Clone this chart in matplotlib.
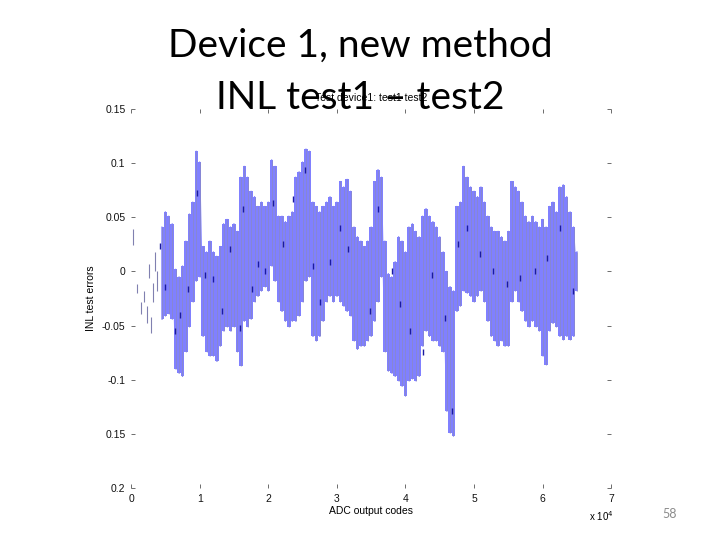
import numpy as np
import matplotlib
matplotlib.use("Agg")
import matplotlib.pyplot as plt

# ADC output codes sampled every 500 codes (dense part of the trace)
codes = list(range(4500, 65001, 500))

# upper / lower envelope of the INL difference trace
inl_upper = [
    0.041, 0.055, 0.051, 0.044, 0.002, -0.005, 0.005, 0.028, 0.053, 0.064,
    0.111, 0.101, 0.023, 0.018, 0.028, 0.018, 0.014, 0.023, 0.044, 0.048,
    0.041, 0.044, 0.037, 0.087, 0.097, 0.087, 0.074, 0.069, 0.060, 0.064,
    0.060, 0.064, 0.103, 0.097, 0.051, 0.051, 0.046, 0.051, 0.055, 0.087,
    0.092, 0.101, 0.113, 0.111, 0.064, 0.060, 0.055, 0.060, 0.064, 0.069,
    0.060, 0.064, 0.083, 0.078, 0.085, 0.074, 0.041, 0.032, 0.028, 0.023,
    0.028, 0.041, 0.083, 0.094, 0.087, 0.028, -0.002, -0.005, 0.009, 0.032,
    0.028, 0.018, 0.041, 0.044, 0.037, 0.032, 0.051, 0.058, 0.051, 0.046,
    0.041, 0.032, 0.018, 0.000, -0.014, -0.018, 0.060, 0.064, 0.097, 0.087,
    0.078, 0.074, 0.069, 0.078, 0.064, 0.051, 0.041, 0.037, 0.037, 0.032,
    0.028, 0.037, 0.083, 0.078, 0.074, 0.064, 0.051, 0.046, 0.051, 0.046,
    0.041, 0.048, 0.041, 0.060, 0.064, 0.055, 0.078, 0.080, 0.069, 0.055,
    0.041, 0.018,
]
inl_lower = [
    -0.044, -0.041, -0.039, -0.044, -0.090, -0.094, -0.097, -0.074, -0.051, -0.028,
    -0.009, -0.005, -0.060, -0.074, -0.078, -0.078, -0.083, -0.069, -0.055, -0.051,
    -0.055, -0.051, -0.074, -0.087, -0.046, -0.051, -0.044, -0.028, -0.023, -0.018,
    -0.014, -0.018, 0.005, -0.009, -0.028, -0.037, -0.046, -0.051, -0.046, -0.046,
    -0.041, -0.028, -0.009, -0.005, -0.060, -0.064, -0.060, -0.046, -0.028, -0.023,
    -0.028, -0.023, -0.028, -0.032, -0.037, -0.041, -0.064, -0.072, -0.069, -0.069,
    -0.064, -0.060, -0.046, -0.028, -0.005, -0.074, -0.092, -0.094, -0.097, -0.101,
    -0.106, -0.115, -0.101, -0.099, -0.101, -0.097, -0.069, -0.055, -0.060, -0.064,
    -0.064, -0.069, -0.074, -0.129, -0.149, -0.152, -0.037, -0.032, -0.018, -0.020,
    -0.023, -0.028, -0.023, -0.018, -0.028, -0.046, -0.060, -0.064, -0.069, -0.064,
    -0.069, -0.069, -0.028, -0.018, -0.028, -0.037, -0.046, -0.051, -0.046, -0.051,
    -0.055, -0.078, -0.086, -0.055, -0.048, -0.051, -0.060, -0.063, -0.060, -0.063,
    -0.060, -0.018,
]

# sparse strokes at the start of the code range
sparse_codes = [290, 870, 1460, 1900, 2330, 2620, 2900, 3200, 3500, 3790]
sparse_low = [0.024, -0.020, -0.039, -0.028, -0.048, -0.006, -0.057, -0.028, 0.000, -0.018]
sparse_high = [0.039, -0.012, -0.028, -0.018, -0.032, 0.007, -0.042, -0.011, 0.018, 0.000]

# dark blue test points visible inside the band
dark_codes = [4227, 4956, 6414, 7143, 8353, 9577, 10787, 11997, 13222, 14431,
              15889, 16370, 17595, 18557, 19534, 20743, 22201, 23659, 25364, 26574,
              27551, 29009, 30466, 31676, 34840, 36050, 38003, 39213, 40671, 42609,
              43834, 45773, 46749, 47711, 48936, 50875, 52813, 54767, 56706, 58892,
              60598, 62536, 64475]
dark_vals = [0.023, -0.014, -0.055, -0.040, -0.016, 0.072, -0.003, -0.007, -0.037, 0.021,
             -0.052, 0.058, -0.016, 0.007, 0.000, 0.063, 0.025, 0.067, 0.094, 0.005,
             -0.028, 0.009, 0.040, 0.021, -0.037, 0.058, 0.000, -0.030, -0.055, -0.074,
             -0.003, -0.043, -0.129, 0.025, 0.040, 0.016, 0.000, -0.012, -0.006, 0.000,
             0.012, 0.040, -0.018]

ytick_vals = [0.15, 0.1, 0.05, 0, -0.05, -0.1, -0.15, -0.2]
ytick_text = ["0.15", "0.1", "0.05", "0", "-0.05", "-0.1", "0.15", "0.2"]
xtick_vals = [0, 1e4, 2e4, 3e4, 4e4, 5e4, 6e4, 7e4]
xtick_text = ["0", "1", "2", "3", "4", "5", "6", "7"]

fig = plt.figure(figsize=(7.2, 5.4), dpi=100)
fig.patch.set_facecolor("white")

ax = fig.add_axes([0.182, 0.0963, 0.667, 0.702])
ax.fill_between(codes, inl_lower, inl_upper, step="mid", color="#8080ff", lw=0)
# zig-zag between the envelope values gives the dense trace look
zig_x = np.repeat(codes, 2)
zig_y = np.column_stack([inl_lower, inl_upper]).ravel()
ax.plot(zig_x, zig_y, color="#8080ff", lw=0.9)
ax.vlines(codes, inl_lower, inl_upper, color="#8a8ac4", lw=0.5)
ax.vlines(sparse_codes, sparse_low, sparse_high, color="#8080b0", lw=0.8)
ax.plot(dark_codes, dark_vals, ls="none", marker="|", ms=4, mew=1.0, color="#1a1aa0")

ax.set_xlim(0, 7e4)
ax.set_ylim(-0.2, 0.15)
for s in ax.spines.values():
    s.set_visible(False)

ax.set_yticks(ytick_vals)
ax.set_yticklabels(ytick_text)
ax.set_xticks(xtick_vals)
ax.set_xticklabels(xtick_text)
ax.tick_params(axis="both", direction="in", length=3, width=0.6, color="#555555",
               labelsize=7.5, labelcolor="#111111", top=True, right=True)
ax.tick_params(axis="y", pad=4)
ax.tick_params(axis="x", pad=4)
for lab in ax.get_xticklabels() + ax.get_yticklabels():
    lab.set_fontfamily("Liberation Sans")

ax.set_xlabel("ADC output codes", fontsize=7.5, family="Liberation Sans", labelpad=2)
ax.set_ylabel("INL test errors", fontsize=7.5, family="Liberation Sans", labelpad=4)
ax.set_title("Test device1: test1 test2", fontsize=7.5, family="Liberation Sans", pad=6)

fig.text(0.818, 0.036, r"x 10$^4$", fontsize=7, family="Liberation Sans", ha="left")

fig.text(0.5, 0.915, "Device 1, new method", fontsize=28, family="Lato",
         ha="center", va="center")
fig.text(0.5, 0.818, "INL test1 \u2013 test2", fontsize=28, family="Lato",
         ha="center", va="center")
fig.text(0.93, 0.048, "58", fontsize=9, family="Lato", color="#8c8c8c",
         ha="center", va="center")

fig.savefig("out.png", dpi=100)
